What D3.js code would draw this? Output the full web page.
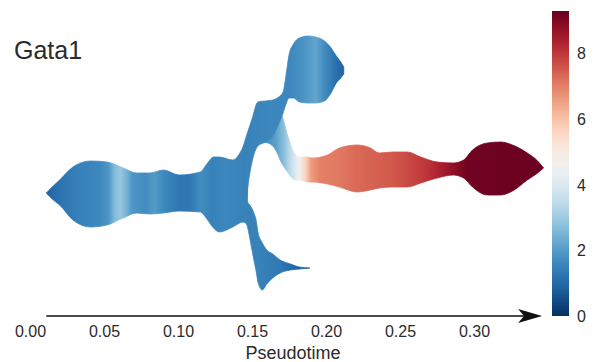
<!DOCTYPE html>
<html><head><meta charset="utf-8">
<script src="https://cdn.jsdelivr.net/npm/d3@7"></script>
<style>body{margin:0;background:#fff} svg{display:block}</style>
</head><body>
<svg id="chart" width="596" height="362"></svg>
<script>
// ---------------- data ----------------
const geneName = "Gata1";
const axisLabel = "Pseudotime";
const xTicks = [0, 0.05, 0.10, 0.15, 0.20, 0.25, 0.30];
const colorTicks = [0, 2, 4, 6, 8];
const colorMax = 9.3;
const axisStart = 0.011, axisEnd = 0.346;

// trunk branch (S0 -> S1)
const trunkT      = [0.011, 0.015, 0.020, 0.029, 0.041, 0.052, 0.063, 0.072, 0.081, 0.090, 0.101, 0.115, 0.120, 0.124, 0.128, 0.137, 0.144, 0.147];
const trunkTop    = [-0.3, 0.3, 1.0, 2.3, 2.9, 2.8, 2.2, 1.7, 1.7, 2.0, 1.5, 1.8, 2.7, 3.3, 3.3, 3.0, 4.3, 5.3];
const trunkBottom = [-0.3, -0.9, -1.5, -3.0, -3.7, -3.5, -2.8, -2.3, -2.4, -2.3, -2.1, -2.2, -3.0, -3.8, -4.2, -3.7, -3.2, -3.5];
const trunkExprT  = [0.011, 0.020, 0.034, 0.047, 0.053, 0.057, 0.061, 0.065, 0.069, 0.078, 0.084, 0.091, 0.101, 0.108, 0.115, 0.123, 0.132, 0.147];
const trunkExprV  = [0.9, 1.2, 1.5, 1.6, 1.9, 2.6, 2.9, 2.5, 1.9, 1.7, 2.0, 1.6, 1.3, 1.3, 1.7, 1.5, 1.6, 1.5];

// upper branch (S1 -> S2)
const upperT      = [0.144, 0.146, 0.148, 0.150, 0.154, 0.159, 0.164, 0.168, 0.171, 0.173, 0.175, 0.178, 0.182, 0.188, 0.193, 0.199, 0.203, 0.207, 0.210, 0.212];
const upperTop    = [4.3, 5.3, 6.2, 7.1, 8.8, 8.9, 9.0, 9.3, 9.8, 11.5, 13.5, 14.6, 15.2, 15.4, 15.3, 14.9, 14.3, 13.4, 12.8, 12.3];
const upperBottom = [-1.0, -0.8, 1.2, 2.8, 4.4, 4.8, 5.4, 6.6, 7.7, 8.6, 9.2, 9.2, 8.8, 8.7, 8.7, 8.9, 9.6, 10.7, 11.2, 11.6];
const upperExprT  = [0.144, 0.162, 0.176, 0.186, 0.193, 0.199, 0.206, 0.212];
const upperExprV  = [1.5, 1.6, 1.6, 1.9, 2.2, 1.7, 1.2, 0.9];

// lower branch (S1 -> S3)
const lowerT      = [0.144, 0.147, 0.149, 0.151, 0.153, 0.154, 0.157, 0.160, 0.164, 0.169, 0.176, 0.182, 0.189];
const lowerTop    = [-1.5, -1.3, -1.6, -2.2, -3.2, -4.2, -5.3, -6.0, -6.4, -7.0, -7.4, -7.7, -7.8];
const lowerBottom = [-2.5, -3.7, -5.2, -6.8, -8.3, -9.2, -10.0, -9.4, -8.8, -8.3, -8.0, -7.9, -7.8];
const lowerExprT  = [0.144, 0.155, 0.169, 0.179, 0.189];
const lowerExprV  = [1.5, 1.5, 1.3, 1.0, 0.7];

// right branch (S1 -> S4)
const rightT      = [0.157, 0.161, 0.166, 0.170, 0.174, 0.179, 0.182, 0.187, 0.191, 0.201, 0.209, 0.221, 0.230, 0.236, 0.245, 0.255, 0.264, 0.275, 0.286, 0.293, 0.299, 0.309, 0.318, 0.326, 0.336, 0.343, 0.347];
const rightTop    = [4.8, 6.5, 8.0, 7.5, 5.5, 3.6, 3.3, 3.3, 3.2, 3.5, 4.2, 4.5, 4.2, 3.7, 3.8, 3.8, 3.3, 2.8, 2.7, 3.0, 4.0, 4.7, 4.8, 4.5, 3.7, 2.9, 2.2];
const rightBottom = [4.8, 4.7, 4.0, 2.7, 1.8, 1.0, 1.0, 0.8, 0.8, 0.6, 0.3, -0.2, 0.0, 0.2, 0.3, 0.3, 0.7, 1.2, 1.5, 1.2, 0.3, -0.5, -0.5, -0.1, 1.0, 1.7, 2.2];
const rightExprT  = [0.157, 0.166, 0.172, 0.176, 0.180, 0.182, 0.186, 0.190, 0.196, 0.209, 0.220, 0.230, 0.243, 0.253, 0.267, 0.280, 0.289, 0.296, 0.347];
const rightExprV  = [1.6, 2.1, 2.8, 3.5, 4.2, 4.7, 5.6, 6.6, 7.0, 7.1, 7.3, 7.4, 7.5, 7.7, 8.0, 8.5, 8.9, 9.2, 9.25];

// ---------------- drawing ----------------
const svg = d3.select("#chart");
const defs = svg.append("defs");
const x = d3.scaleLinear().domain([0, 0.35]).range([30, 548]);
const y = d3.scaleLinear().domain([-10, 10]).range([290, 90]);
const color = v => d3.interpolateRdBu(1 - v / colorMax);
const font = "'Liberation Sans', Arial, sans-serif";

const branches = [
  {id: "right", t: rightT, top: rightTop, bot: rightBottom, et: rightExprT, ev: rightExprV},
  {id: "lower", t: lowerT, top: lowerTop, bot: lowerBottom, et: lowerExprT, ev: lowerExprV},
  {id: "trunk", t: trunkT, top: trunkTop, bot: trunkBottom, et: trunkExprT, ev: trunkExprV},
  {id: "upper", t: upperT, top: upperTop, bot: upperBottom, et: upperExprT, ev: upperExprV}
];

const area = d3.area()
  .x(d => x(d.t)).y0(d => y(d.bot)).y1(d => y(d.top))
  .curve(d3.curveMonotoneX);

branches.forEach(b => {
  const x1 = x(b.et[0]), x2 = x(b.et[b.et.length - 1]);
  const g = defs.append("linearGradient").attr("id", "grad-" + b.id)
    .attr("gradientUnits", "userSpaceOnUse")
    .attr("x1", x1).attr("x2", x2).attr("y1", 0).attr("y2", 0);
  b.et.forEach((t, i) => {
    g.append("stop").attr("offset", (x(t) - x1) / (x2 - x1)).attr("stop-color", color(b.ev[i]));
  });
  const pts = b.t.map((t, i) => ({t, top: b.top[i], bot: b.bot[i]}));
  svg.append("path").datum(pts).attr("d", area)
    .attr("fill", `url(#grad-${b.id})`)
    .attr("stroke", `url(#grad-${b.id})`).attr("stroke-width", 0.8)
    .attr("stroke-linejoin", "round");
});

// pseudotime axis
const axisY = 316;
svg.append("line")
  .attr("x1", x(axisStart)).attr("x2", x(axisEnd) - 10)
  .attr("y1", axisY).attr("y2", axisY)
  .attr("stroke", "#111").attr("stroke-width", 1.6);
const tip = x(axisEnd);
svg.append("path")
  .attr("d", `M${tip},${axisY} L${tip - 24},${axisY - 7} L${tip - 18},${axisY} L${tip - 24},${axisY + 7} Z`)
  .attr("fill", "#111");

const xAxis = d3.axisBottom(x).tickValues(xTicks).tickSize(0).tickPadding(10)
  .tickFormat(d3.format(".2f"));
const gx = svg.append("g").attr("transform", `translate(0,${axisY})`).call(xAxis);
gx.select(".domain").remove();
gx.selectAll("text").attr("font-family", font).attr("font-size", 16).attr("fill", "#2b2b2b");

svg.append("text").attr("x", 293).attr("y", 359).attr("text-anchor", "middle")
  .attr("font-family", font).attr("font-size", 18).attr("fill", "#2b2b2b").text(axisLabel);

svg.append("text").attr("x", 14).attr("y", 59)
  .attr("font-family", font).attr("font-size", 25).attr("fill", "#2b2b2b").text(geneName);

// colorbar
const cy = d3.scaleLinear().domain([0, colorMax]).range([316, 11]);
const cg = defs.append("linearGradient").attr("id", "cbar")
  .attr("x1", 0).attr("x2", 0).attr("y1", 1).attr("y2", 0);
d3.range(0, 1.0001, 0.05).forEach(f => {
  cg.append("stop").attr("offset", f).attr("stop-color", color(f * colorMax));
});
svg.append("rect").attr("x", 552).attr("width", 17)
  .attr("y", cy(colorMax)).attr("height", cy(0) - cy(colorMax))
  .attr("fill", "url(#cbar)");
svg.append("g").selectAll("text").data(colorTicks).join("text")
  .attr("x", 577).attr("y", d => cy(d)).attr("dy", "0.36em")
  .attr("font-family", font).attr("font-size", 16).attr("fill", "#2b2b2b")
  .text(d => d);
</script>
</body></html>
